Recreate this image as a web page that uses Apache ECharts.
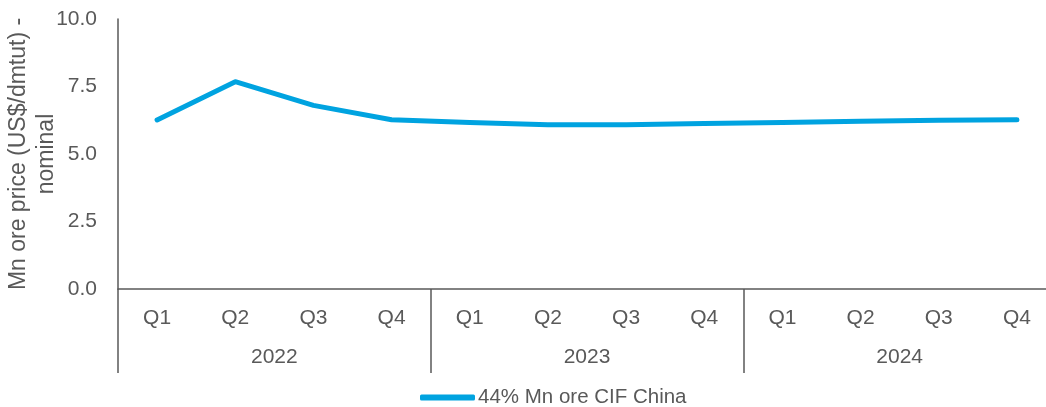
<!DOCTYPE html>
<html>
<head>
<meta charset="utf-8">
<script src="https://cdn.jsdelivr.net/npm/echarts@6/dist/echarts.min.js"></script>
<style>
html,body{margin:0;padding:0;background:#fff;}
#chart{width:1046px;height:407px;}
</style>
</head>
<body>
<div id="chart"></div>
<script>
const quarters = ['Q1','Q2','Q3','Q4','Q1','Q2','Q3','Q4','Q1','Q2','Q3','Q4'];
const years = ['2022','2023','2024'];
const seriesName = '44% Mn ore CIF China';
const prices = [6.26, 7.68, 6.8, 6.27, 6.17, 6.08, 6.08, 6.13, 6.17, 6.21, 6.25, 6.27];
const yTicks = [0, 2.5, 5, 7.5, 10];

const gray = '#595959';
const font = 'Liberation Sans, Arial, sans-serif';
const chart = echarts.init(document.getElementById('chart'));
chart.setOption({
  animation: false,
  textStyle: {fontFamily: font},
  grid: {left: 118, top: 19, bottom: 118, width: 938, containLabel: false, outerBoundsMode: 'none'},
  legend: {
    top: 382, left: 415,
    itemWidth: 55, itemHeight: 6,
    icon: 'roundRect',
    textStyle: {color: gray, fontSize: 20.5, fontFamily: font, padding: [0, 0, 0, -2]},
    data: [seriesName]
  },
  xAxis: [{
    type: 'category', data: quarters, position: 'bottom',
    axisLine: {show: true, lineStyle: {color: gray, width: 1.5}},
    axisTick: {show: false},
    axisLabel: {color: gray, fontSize: 21, margin: 19, fontFamily: font}
  }, {
    type: 'category', data: years, position: 'bottom',
    axisLine: {show: false},
    axisTick: {show: true, length: 84, interval: 0, lineStyle: {color: gray, width: 1.5}},
    axisLabel: {color: gray, fontSize: 21, margin: 58, fontFamily: font}
  }],
  yAxis: {
    type: 'value', min: yTicks[0], max: yTicks[yTicks.length-1], interval: 2.5,
    axisLine: {show: true, lineStyle: {color: gray, width: 1.5}},
    axisTick: {show: false},
    splitLine: {show: false},
    axisLabel: {color: gray, fontSize: 21, margin: 21, fontFamily: font, formatter: v => v.toFixed(1)},
    name: 'Mn ore price (US$/dmtut) -\nnominal',
    nameLocation: 'middle', nameGap: 57, nameRotate: 90, nameMoveOverlap: false,
    nameTextStyle: {color: gray, fontSize: 23, lineHeight: 28, fontFamily: font}
  },
  series: [{
    name: seriesName, type: 'line', data: prices, xAxisIndex: 0,
    symbol: 'none', lineStyle: {color: '#00A3E0', width: 5, cap: 'round', join: 'round'},
    itemStyle: {color: '#00A3E0'}
  }]
});
</script>
</body>
</html>
